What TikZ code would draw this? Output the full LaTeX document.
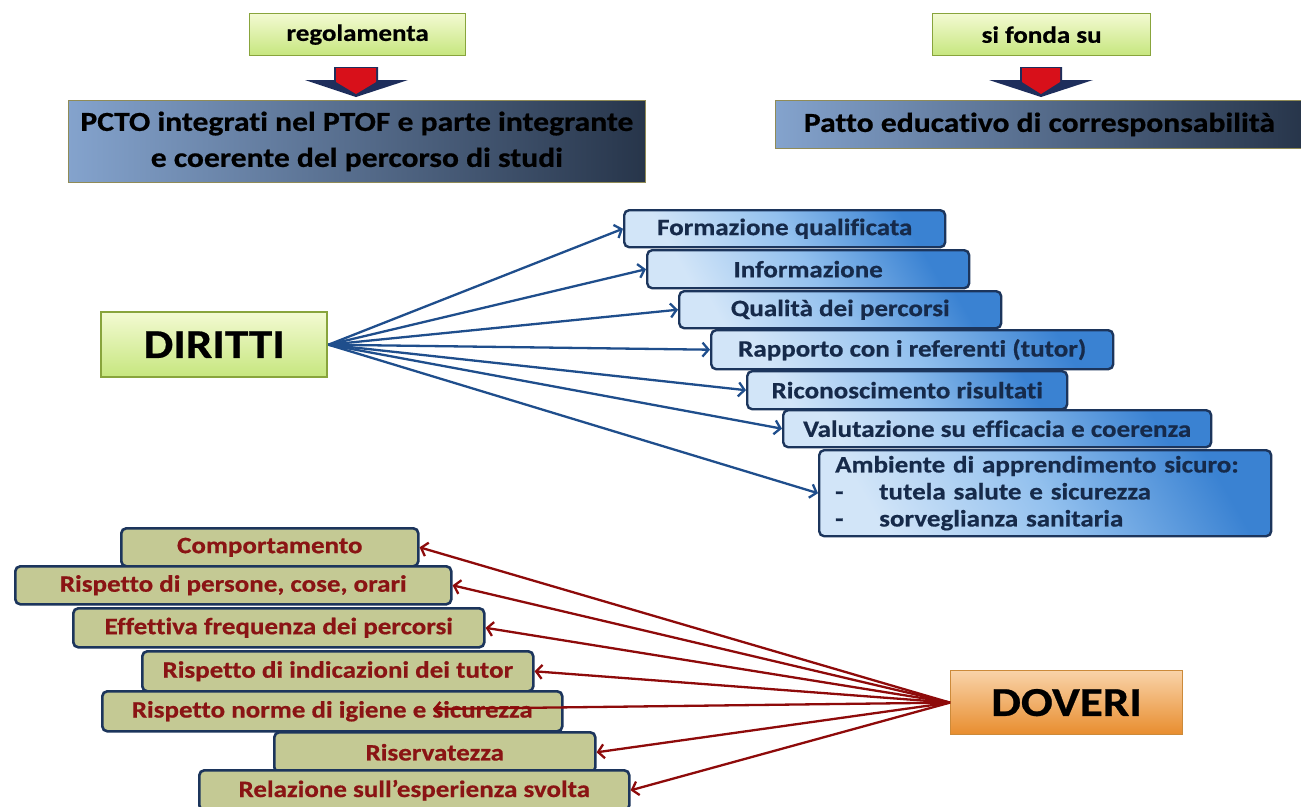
\documentclass[tikz,border=0pt]{standalone}
\usepackage{fontspec}
\setmainfont{Carlito}[FakeStretch=1.15, Ligatures=NoCommon, BoldFeatures={FakeBold=0.6}]
\usetikzlibrary{arrows.meta}
\definecolor{navyline}{HTML}{1C355C}
\definecolor{bluearrow}{HTML}{1F4E8C}
\definecolor{redarrow}{HTML}{8E0A0A}
\definecolor{redtext}{HTML}{8A1414}
\definecolor{olivefill}{HTML}{C4C994}
\definecolor{greentop}{HTML}{F3FAD2}
\definecolor{greenbot}{HTML}{C6E67E}
\definecolor{greenline}{HTML}{88A43C}
\definecolor{steelL}{HTML}{84A3CD}
\definecolor{steelR}{HTML}{27354A}
\definecolor{blueL}{HTML}{D2E5F8}
\definecolor{blueM}{HTML}{92C0EE}
\definecolor{blueD}{HTML}{3A82D2}
\definecolor{orangeT}{HTML}{F9D3A9}
\definecolor{orangeB}{HTML}{E88D2E}
\definecolor{orangeline}{HTML}{CC8A3A}
\definecolor{arrowred}{HTML}{D8101A}
\definecolor{arrownavy}{HTML}{1E2E5C}
\tikzset{
  greenbox/.style={draw=greenline, line width=1.2pt, top color=greentop, bottom color=greenbot, inner sep=0pt, anchor=north west},
  steelbox/.style={draw=gray!60!olive, line width=0.8pt, left color=steelL, right color=steelR, inner sep=0pt, anchor=north west, align=center},
  bluebox/.style={draw=navyline, line width=2.4pt, rounded corners=5pt, top color=blueD, bottom color=blueL, middle color=blueM, shading angle=-60, inner sep=0pt, anchor=north west, font=\fontsize{23.5}{27}\selectfont\bfseries, text=navyline!80!black},
  olivebox/.style={draw=navyline, line width=2.6pt, rounded corners=5pt, fill=olivefill, inner sep=0pt, anchor=north west, font=\fontsize{23.5}{27}\selectfont\bfseries, text=redtext},
  bigbox/.style={inner sep=0pt, anchor=north west, font=\fontsize{41}{48}\selectfont\bfseries},
  bluearr/.style={draw=bluearrow, line width=2.3pt, -{Straight Barb[length=6pt,width=14pt,line width=2.3pt]}},
  redarr/.style={draw=redarrow, line width=2.3pt, -{Straight Barb[length=6pt,width=14pt,line width=2.3pt]}},
}
\begin{document}
\begin{tikzpicture}[x=1pt,y=-1pt, font=\bfseries]
\useasboundingbox (0,0) rectangle (1301,806);
\fill[white] (0,0) rectangle (1301,806);

% top left
\node[greenbox, minimum width=216pt, minimum height=42pt, font=\fontsize{23.5}{27}\selectfont\bfseries] (reg) at (249,13) {regolamenta};
\node[steelbox, minimum width=577pt, minimum height=82pt, font=\fontsize{27.5}{36}\selectfont\bfseries] (pcto) at (68,100) {PCTO integrati nel PTOF e parte integrante\\e coerente del percorso di studi};
\fill[arrownavy] (334,67) -- (378,67) -- (378,80) -- (408,80) -- (356,97) -- (305,80) -- (334,80) -- cycle;
\fill[arrowred] (336,68) -- (376,68) -- (376,82) -- (356,94) -- (336,82) -- cycle;

% top right
\node[greenbox, minimum width=218pt, minimum height=42pt, font=\fontsize{23.5}{27}\selectfont\bfseries] (fonda) at (932,13) {si fonda su};
\node[steelbox, minimum width=528pt, minimum height=48pt, font=\fontsize{27.5}{32}\selectfont\bfseries] (patto) at (775,100) {Patto educativo di corresponsabilità};
\fill[arrownavy] (1020,67) -- (1062,67) -- (1062,80) -- (1093,80) -- (1041,97) -- (989,80) -- (1020,80) -- cycle;
\fill[arrowred] (1022,68) -- (1060,68) -- (1060,82) -- (1041,94) -- (1022,82) -- cycle;

% DIRITTI
\node[bigbox, draw=greenline, line width=2.4pt, top color=greentop, bottom color=greenbot, minimum width=226pt, minimum height=65pt] (dir) at (100,311) {DIRITTI};

\node[bluebox, minimum width=321pt, minimum height=37pt] (b1) at (623,209) {Formazione qualificata};
\node[bluebox, minimum width=322pt, minimum height=38pt] (b2) at (646,249) {Informazione};
\node[bluebox, minimum width=322pt, minimum height=37pt] (b3) at (678,290) {Qualità dei percorsi};
\node[bluebox, minimum width=402pt, minimum height=39pt] (b4) at (710,329) {Rapporto con i referenti (tutor)};
\node[bluebox, minimum width=320pt, minimum height=38pt] (b5) at (746,370) {Riconoscimento risultati};
\node[bluebox, minimum width=428pt, minimum height=37pt] (b6) at (782,409) {Valutazione su efficacia e coerenza};
\node[bluebox, minimum height=86pt, text width=420pt, inner xsep=16pt, align=left] (b7) at (818,449) {Ambiente di apprendimento sicuro:\\\makebox[44pt][l]{-}tutela salute e sicurezza\\\makebox[44pt][l]{-}sorveglianza sanitaria};

\foreach \b in {b1,b2,b3,b4,b5,b6,b7} \draw[bluearr] (dir.east) -- (\b.west);

% DOVERI
\node[bigbox, draw=orangeline, line width=1.2pt, top color=orangeT, bottom color=orangeB, minimum width=232pt, minimum height=64pt] (dov) at (950,670) {DOVERI};

\node[olivebox, minimum width=297pt, minimum height=38pt] (o1) at (120,527) {Comportamento};
\node[olivebox, minimum width=436pt, minimum height=38pt] (o2) at (14,565) {Rispetto di persone, cose, orari};
\node[olivebox, minimum width=411pt, minimum height=39pt] (o3) at (72,607) {Effettiva frequenza dei percorsi};
\node[olivebox, minimum width=391pt, minimum height=40pt] (o4) at (141,650) {Rispetto di indicazioni dei tutor};
\node[olivebox, minimum width=460pt, minimum height=40pt] (o5) at (101,690) {Rispetto norme di igiene e sicurezza};
\node[olivebox, minimum width=321pt, minimum height=40pt] (o6) at (273,731) {Riservatezza};
\node[olivebox, minimum width=430pt, minimum height=40pt] (o7) at (198,769) {Relazione sull’esperienza svolta};
\coordinate (o5tip) at (433,709);

\foreach \o in {o1,o2,o3,o4,o6,o7} \draw[redarr] (dov.west) -- (\o.east);
\draw[redarr] (dov.west) -- (o5tip);
\end{tikzpicture}
\end{document}
